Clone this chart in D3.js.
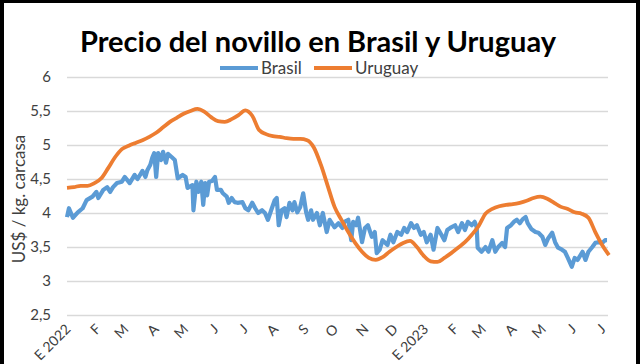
<!DOCTYPE html>
<html><head><meta charset="utf-8">
<script src="https://cdn.jsdelivr.net/npm/d3@7/dist/d3.min.js"></script>
<style>body{margin:0;background:#fff}svg{display:block}</style>
</head><body>
<svg id="c" width="640" height="364"></svg>
<script>
// ---------- DATA ----------
const title = "Precio del novillo en Brasil y Uruguay";
const yTitle = "US$ / kg. carcasa";
const seriesNames = ["Brasil", "Uruguay"];
const startDate = "2022-01-01";
const endDate = "2023-07-08";
const monthLabels = ["E 2022","F","M","A","M","J","J","A","S","O","N","D","E 2023","F","M","A","M","J","J"];
const yTicks = [2.5, 3, 3.5, 4, 4.5, 5, 5.5, 6];

// Brasil: day offsets from startDate and prices (US$/kg carcasa)
const brasilDays = [0,2,6,11,16,20,26,30,32,37,41,44,47,51,56,59,64,69,72,77,80,82,85,87,89,91,93,96,98,101,103,107,110,113,118,121,123,128,129,132,134,137,139,141,143,145,148,151,153,157,159,163,165,168,171,174,179,182,185,189,192,195,199,202,205,209,212,214,216,219,222,224,227,230,232,235,238,241,244,246,249,251,255,258,261,265,268,273,277,281,283,287,290,292,295,297,301,304,307,311,314,316,319,322,327,330,333,337,341,344,347,351,354,357,361,364,367,371,374,378,382,385,388,391,396,399,403,406,409,413,416,418,419,423,427,430,434,437,440,444,447,449,453,456,459,462,465,468,470,474,478,481,485,488,491,495,498,501,505,508,511,515,518,521,526,529,532,536,539,542,546,549,551];
const brasilValues = [3.94,4.07,3.93,4.01,4.07,4.19,4.24,4.31,4.22,4.34,4.38,4.31,4.38,4.44,4.46,4.53,4.44,4.56,4.50,4.62,4.53,4.63,4.71,4.81,4.88,4.53,4.88,4.78,4.90,4.74,4.87,4.82,4.78,4.51,4.56,4.53,4.37,4.41,4.04,4.46,4.31,4.46,4.12,4.44,4.26,4.46,4.47,4.53,4.34,4.34,4.29,4.24,4.15,4.22,4.16,4.15,4.16,4.07,4.04,4.15,4.07,4.00,4.04,4.00,3.90,4.07,4.19,4.22,3.82,4.04,4.07,3.94,4.15,4.04,4.16,4.01,4.09,4.29,4.01,3.90,4.04,3.90,4.00,3.82,4.00,3.72,3.90,3.79,3.85,3.78,3.87,3.90,3.60,3.87,3.82,3.93,3.57,3.78,3.82,3.65,3.72,3.41,3.46,3.60,3.53,3.68,3.57,3.72,3.68,3.78,3.72,3.85,3.78,3.82,3.68,3.72,3.57,3.68,3.46,3.78,3.68,3.60,3.75,3.78,3.82,3.72,3.85,3.75,3.87,3.82,3.87,3.79,3.49,3.43,3.50,3.43,3.60,3.43,3.50,3.56,3.50,3.78,3.82,3.87,3.90,3.85,3.91,3.94,3.85,3.76,3.72,3.71,3.65,3.53,3.63,3.71,3.57,3.49,3.46,3.43,3.34,3.21,3.34,3.31,3.43,3.31,3.43,3.50,3.56,3.57,3.56,3.60,3.60];

// Uruguay: weekly prices starting at startDate
const uruguayValues = [4.37,4.38,4.40,4.40,4.44,4.51,4.66,4.82,4.94,4.99,5.03,5.07,5.12,5.18,5.26,5.34,5.40,5.46,5.50,5.53,5.49,5.41,5.35,5.34,5.38,5.44,5.51,5.43,5.22,5.16,5.13,5.12,5.10,5.09,5.09,5.07,4.96,4.71,4.40,4.09,3.90,3.72,3.56,3.43,3.34,3.31,3.35,3.43,3.50,3.56,3.59,3.50,3.37,3.29,3.28,3.34,3.41,3.49,3.57,3.68,3.81,3.99,4.06,4.10,4.12,4.13,4.15,4.18,4.22,4.24,4.21,4.15,4.09,4.06,4.01,3.99,3.93,3.72,3.53,3.38];

const colors = {Brasil: "#5B9BD5", Uruguay: "#ED7D31"};

// ---------- CHART ----------
const svg = d3.select("#c");
const font = "Lato, 'Open Sans', sans-serif";
const t0 = d3.utcParse("%Y-%m-%d")(startDate);
const t1 = d3.utcParse("%Y-%m-%d")(endDate);
const dayOf = d => d3.utcDay.offset(t0, d);

const x = d3.scaleUtc().domain([t0, t1]).range([67, 609]);
const y = d3.scaleLinear().domain([2.5, 6]).range([315, 77]);

svg.append("rect").attr("x",0).attr("y",0).attr("width",640).attr("height",364).attr("fill","#fff");

// grid + y axis
const yAxis = d3.axisLeft(y).tickValues(yTicks).tickSize(-(608-67)).tickPadding(16)
  .tickFormat(d => String(d).replace(".", ","));
const gy = svg.append("g").attr("transform","translate(67,0)").call(yAxis);
gy.select(".domain").remove();
gy.selectAll(".tick line").attr("stroke","#d9d9d9").attr("stroke-width",1.3);
gy.selectAll(".tick text").attr("fill","#404040").style("font-family",font).style("font-size","15px");

// x axis
const months = d3.utcMonth.range(t0, d3.utcDay.offset(t1, 1));
const xAxis = d3.axisBottom(x).tickValues(months).tickSize(0)
  .tickFormat((d,i) => monthLabels[i]);
const gx = svg.append("g").attr("transform","translate(0,320)").call(xAxis);
gx.select(".domain").remove();
gx.selectAll(".tick text")
  .attr("fill","#404040").style("font-family",font).style("font-size","14px")
  .attr("text-anchor","end").attr("dy",0).attr("y",0)
  .attr("transform","translate(4,10) rotate(-45)");

// lines
const brasil = brasilDays.map((d,i) => ({date: dayOf(d), v: brasilValues[i]}));
const uruguay = uruguayValues.map((v,i) => ({date: dayOf(7*i), v}));
const line = d3.line().x(d => x(d.date)).y(d => y(d.v));
svg.append("path").datum(brasil).attr("fill","none").attr("stroke",colors.Brasil)
  .attr("stroke-width",4.2).attr("stroke-linejoin","round").attr("d", line);
svg.append("path").datum(uruguay).attr("fill","none").attr("stroke",colors.Uruguay)
  .attr("stroke-width",3.8).attr("stroke-linejoin","round")
  .attr("d", line.curve(d3.curveMonotoneX));

// title
svg.append("text").attr("x",318).attr("y",52).attr("text-anchor","middle")
  .style("font-family",font).style("font-weight","bold").style("font-size","29px")
  .attr("fill","#000").text(title);

// legend
const legend = [{name:"Brasil", x1:220, x2:258, tx:261},{name:"Uruguay", x1:314, x2:352, tx:355}];
legend.forEach(l => {
  svg.append("line").attr("x1",l.x1).attr("x2",l.x2).attr("y1",68).attr("y2",68)
    .attr("stroke",colors[l.name]).attr("stroke-width",4);
  svg.append("text").attr("x",l.tx).attr("y",74).style("font-family",font)
    .style("font-size","17px").attr("fill","#404040").text(l.name);
});

// y title
svg.append("text").attr("transform","translate(25,199) rotate(-90)").attr("text-anchor","middle")
  .style("font-family",font).style("font-size","17px").attr("fill","#404040").text(yTitle);

// black frame edges
svg.append("rect").attr("x",0).attr("y",0).attr("width",4).attr("height",364).attr("fill","#000");
svg.append("rect").attr("x",0).attr("y",0).attr("width",640).attr("height",3).attr("fill","#000");
svg.append("rect").attr("x",636).attr("y",0).attr("width",4).attr("height",364).attr("fill","#000");
</script>
</body></html>
